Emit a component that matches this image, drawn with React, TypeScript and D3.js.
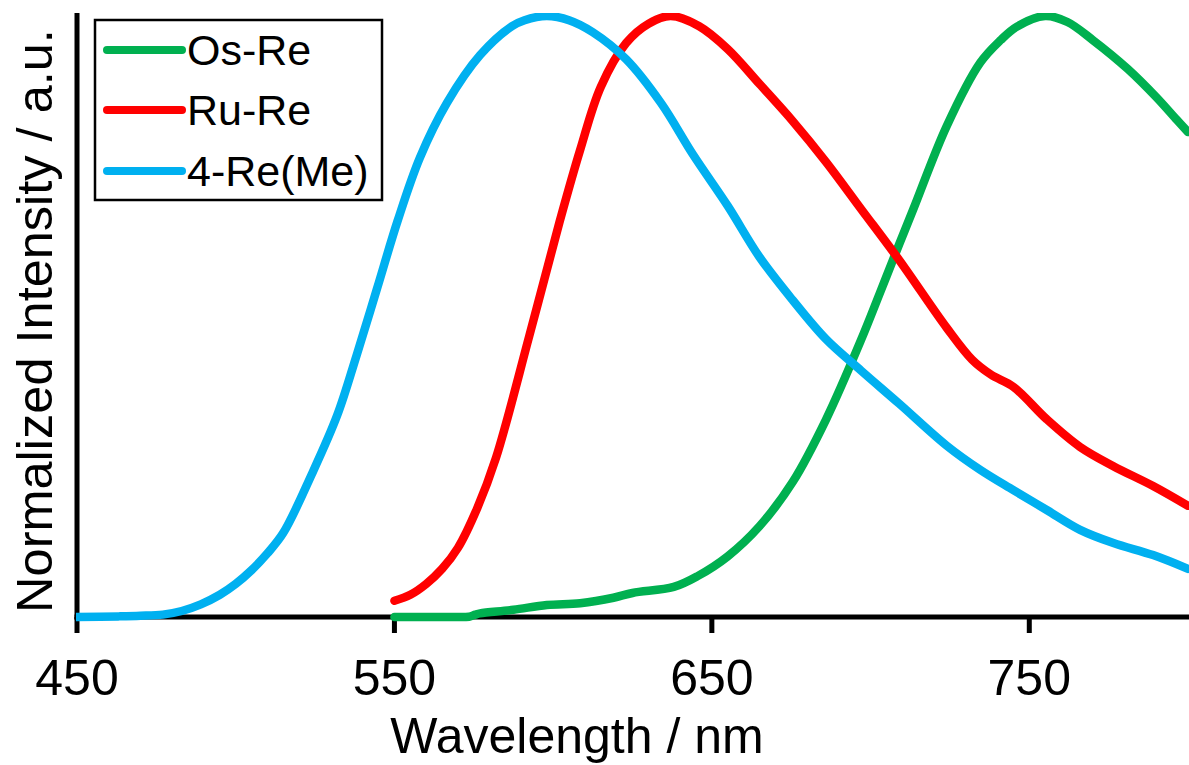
import React from "react";
import * as d3 from "d3";

const xTicks = [450, 550, 650, 750];

const osReWl = [550, 560, 568, 573.5, 575.5, 577, 587.5, 598, 608.5, 619, 625, 638, 645.5, 655, 665, 675.5, 686, 697, 703, 709, 713.5, 724, 734.5, 741, 746, 755, 762, 770, 781, 790, 796.5, 800];
const osReI = [0, 0, 0, 0.0005, 0.004, 0.006, 0.012, 0.02, 0.023, 0.032, 0.04, 0.05, 0.068, 0.101, 0.151, 0.225, 0.329, 0.461, 0.54, 0.62, 0.679, 0.817, 0.922, 0.96, 0.982, 1.0, 0.99, 0.96, 0.912, 0.865, 0.827, 0.807];

const ruReWl = [550, 555, 560, 565, 570, 576, 582, 592.5, 602, 608.5, 615, 623, 630, 637, 646, 655, 665, 675.5, 686, 697, 709, 724, 732, 738, 745, 755.5, 766, 776.5, 789, 800];
const ruReI = [0.027, 0.037, 0.055, 0.08, 0.115, 0.18, 0.265, 0.468, 0.657, 0.777, 0.882, 0.955, 0.987, 1.0, 0.983, 0.945, 0.887, 0.825, 0.757, 0.679, 0.594, 0.481, 0.428, 0.403, 0.383, 0.329, 0.283, 0.251, 0.218, 0.185];

const reMeWl = [450, 463, 470, 477, 483, 489, 495, 500, 505, 510, 515, 524, 532, 538, 544.5, 551, 558, 566.5, 577, 587, 591, 598, 605, 612.5, 623, 634, 644, 655, 665, 675.5, 686, 697, 709, 724, 734.5, 745, 755.5, 766, 776.5, 789, 800];
const reMeI = [0, 0.001, 0.002, 0.004, 0.01, 0.021, 0.037, 0.055, 0.078, 0.106, 0.14, 0.238, 0.336, 0.434, 0.546, 0.659, 0.764, 0.855, 0.935, 0.983, 0.993, 1.0, 0.993, 0.973, 0.928, 0.855, 0.77, 0.684, 0.599, 0.527, 0.462, 0.41, 0.355, 0.285, 0.245, 0.211, 0.178, 0.145, 0.123, 0.103, 0.08];

const seriesNames = ["Os-Re", "Ru-Re", "4-Re(Me)"];
const seriesColors = ["#00B050", "#FF0000", "#00B0F0"];

const W = 1189;
const H = 765;
const FONT = "'Liberation Sans', Arial, Helvetica, sans-serif";

export default function App() {
  const x = d3.scaleLinear().domain([450, 800]).range([77, 1188]);
  const y = d3.scaleLinear().domain([0, 1]).range([617, 16]);

  const series = [
    { name: seriesNames[0], color: seriesColors[0], data: osReWl.map((w, i) => [w, osReI[i]] as [number, number]) },
    { name: seriesNames[1], color: seriesColors[1], data: ruReWl.map((w, i) => [w, ruReI[i]] as [number, number]) },
    { name: seriesNames[2], color: seriesColors[2], data: reMeWl.map((w, i) => [w, reMeI[i]] as [number, number]) },
  ];

  const line = d3
    .line<[number, number]>()
    .x((d) => x(d[0]))
    .y((d) => y(d[1]))
    .curve(d3.curveCatmullRom.alpha(0.5));

  const legendY = [50, 110, 171];

  return (
    <svg
      width={W}
      height={H}
      style={{ position: "absolute", left: 0, top: 0, background: "#fff" }}
      fontFamily={FONT}
    >
      <defs>
        <clipPath id="plotClip">
          <rect x={76} y={13} width={W - 76} height={H - 13} />
        </clipPath>
      </defs>
      <rect x={0} y={0} width={W} height={H} fill="#fff" />

      {/* axes */}
      <line x1={x(450)} x2={x(450)} y1={13} y2={619.5} stroke="#000" strokeWidth={5} />
      <line x1={x(450) - 2.5} x2={W} y1={y(0)} y2={y(0)} stroke="#000" strokeWidth={5} />
      {xTicks.map((t) => (
        <g key={t}>
          <line x1={x(t)} x2={x(t)} y1={y(0)} y2={633} stroke="#000" strokeWidth={5} />
          <text x={x(t)} y={695} textAnchor="middle" fontSize={50} fill="#000">
            {t}
          </text>
        </g>
      ))}

      {/* axis titles */}
      <text x={577} y={753} textAnchor="middle" fontSize={50} fill="#000">
        Wavelength / nm
      </text>
      <text
        transform={`translate(52,321) rotate(-90)`}
        textAnchor="middle"
        fontSize={50.5}
        fill="#000"
      >
        Normalized Intensity / a.u.
      </text>

      {/* curves */}
      <g clipPath="url(#plotClip)">
        {series.map((s) => (
          <path
            key={s.name}
            d={line(s.data) || ""}
            fill="none"
            stroke={s.color}
            strokeWidth={8.5}
            strokeLinecap="round"
            strokeLinejoin="round"
          />
        ))}
      </g>

      {/* legend */}
      <rect x={95} y={20} width={287} height={180} fill="#fff" stroke="#000" strokeWidth={2.5} />
      {series.map((s, i) => (
        <g key={s.name}>
          <line x1={107} x2={182} y1={legendY[i]} y2={legendY[i]} stroke={s.color} strokeWidth={8} strokeLinecap="round" />
          <text x={187} y={legendY[i] + 15} fontSize={43} fill="#000">
            {s.name}
          </text>
        </g>
      ))}
    </svg>
  );
}
